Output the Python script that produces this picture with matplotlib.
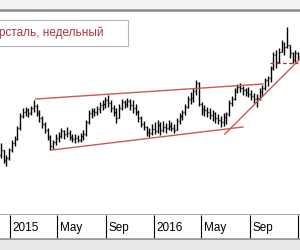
import matplotlib
matplotlib.use('Agg')
import matplotlib.pyplot as plt
import matplotlib.dates as mdates
from matplotlib.patches import Rectangle
import pandas as pd

# weekly bars, Severstal (prices, RUB)
weeks = pd.date_range('2014-12-08', periods=109, freq='W-MON')

opens = [616, 631, 601, 607, 631, 652, 664, 697, 733, 745, 751, 742, 757, 763, 742, 727, 709, 691, 670, 643,
         655, 667, 673, 688, 679, 682, 670, 664, 667, 661, 673, 679, 715, 742, 748, 745, 754, 766, 769, 781,
         772, 757, 745, 727, 757, 775, 769, 778, 766, 757, 745, 727, 709, 700, 685, 682, 694, 688, 706, 691,
         700, 697, 703, 697, 691, 718, 733, 745, 760, 784, 787, 808, 832, 769, 754, 751, 745, 736, 742, 727,
         721, 715, 730, 739, 772, 784, 808, 820, 817, 811, 805, 799, 793, 784, 787, 805, 817, 841, 847, 877,
         916, 895, 925, 949, 940, 946, 922, 901, 922]
highs = [652, 631, 616, 637, 661, 673, 703, 742, 757, 760, 757, 763, 781, 769, 751, 733, 715, 697, 676, 661,
         679, 685, 697, 691, 700, 691, 679, 679, 676, 682, 691, 721, 751, 757, 757, 763, 775, 781, 790, 796,
         781, 766, 757, 769, 784, 781, 787, 784, 781, 769, 751, 733, 718, 703, 697, 709, 715, 721, 715, 718,
         712, 721, 715, 709, 727, 742, 751, 769, 793, 805, 817, 841, 835, 775, 766, 760, 757, 751, 745, 739,
         733, 742, 745, 781, 793, 817, 829, 832, 823, 817, 820, 811, 802, 799, 817, 826, 847, 853, 883, 925,
         931, 937, 961, 955, 1000, 946, 925, 931, 925]
lows = [607, 592, 583, 601, 625, 643, 661, 691, 727, 733, 730, 736, 745, 733, 715, 697, 682, 661, 631, 634,
        646, 655, 667, 664, 670, 661, 655, 652, 655, 655, 661, 673, 709, 727, 733, 736, 742, 751, 757, 760,
        745, 733, 712, 727, 751, 757, 760, 751, 742, 736, 715, 700, 691, 673, 670, 676, 679, 682, 676, 685,
        682, 691, 688, 682, 691, 709, 721, 736, 757, 769, 775, 796, 763, 736, 733, 730, 724, 718, 712, 709,
        700, 703, 709, 733, 763, 781, 802, 805, 796, 793, 790, 781, 772, 760, 781, 793, 811, 823, 835, 871,
        877, 892, 925, 916, 937, 907, 892, 895, 901]
closes = [631, 601, 607, 631, 652, 664, 697, 733, 745, 751, 742, 757, 763, 742, 727, 709, 691, 670, 643, 655,
          667, 673, 688, 679, 682, 670, 664, 667, 661, 673, 679, 715, 742, 748, 745, 754, 766, 769, 781, 772,
          757, 745, 727, 757, 775, 769, 778, 766, 757, 745, 727, 709, 700, 685, 682, 694, 688, 706, 691, 700,
          697, 703, 697, 691, 718, 733, 745, 760, 784, 787, 808, 832, 769, 754, 751, 745, 736, 742, 727, 721,
          715, 730, 739, 772, 784, 808, 820, 817, 811, 805, 799, 793, 784, 787, 805, 817, 841, 847, 877, 916,
          895, 925, 949, 940, 946, 922, 901, 922, 913]

# trend lines: (start date, start price, end date, end price)
channel_top = ('2015-03-07', 784, '2016-10-05', 829)
channel_bottom = ('2015-04-17', 631, '2016-08-15', 700)
rising_line = ('2016-06-30', 679, '2017-01-07', 904)
resistance = ('2016-10-23', 892, '2017-01-02', 892)

month_marks = ['2015-01-01', '2015-05-01', '2015-09-01', '2016-01-01', '2016-05-01', '2016-09-01', '2017-01-01']
month_labels = ['2015', 'May', 'Sep', '2016', 'May', 'Sep', '']

title = 'рсталь, недельный'

plt.rcParams['font.family'] = ['Liberation Sans', 'DejaVu Sans']

fig = plt.figure(figsize=(3, 2.5), dpi=100)
fig.patch.set_facecolor('white')
# grey bands above and below the chart
fig.patches.append(Rectangle((0, 0), 1, 1 - 240 / 250, transform=fig.transFigure,
                             facecolor='#e9e9e9', edgecolor='none', zorder=0))
fig.patches.append(Rectangle((0, 1 - 9 / 250), 1, 9 / 250, transform=fig.transFigure,
                             facecolor='#f3f3f3', edgecolor='none', zorder=0))

x0 = mdates.date2num(pd.Timestamp('2014-12-06'))
x1 = mdates.date2num(pd.Timestamp('2017-01-07'))

ax = fig.add_axes([0, 1 - 215 / 250, 1, 205 / 250])
ax.set_xlim(x0, x1)
ax.set_ylim(436, 1051)
ax.set_xticks([])
ax.set_yticks([])
for side in ['left', 'right']:
    ax.spines[side].set_visible(False)
for side in ['top', 'bottom']:
    ax.spines[side].set_color('#8a8a8a')
    ax.spines[side].set_linewidth(1.8)

# OHLC bars
d = mdates.date2num(weeks)
ax.vlines(d, lows, highs, color='black', lw=1.0)
ax.hlines(opens, d - 2.4, d, color='black', lw=1.0)
ax.hlines(closes, d, d + 2.4, color='black', lw=1.0)

for line in [channel_top, channel_bottom, rising_line]:
    ax.plot(pd.to_datetime([line[0], line[2]]), [line[1], line[3]], color='#d25555', lw=1.0)
ax.plot(pd.to_datetime([resistance[0], resistance[2]]), [resistance[1], resistance[3]],
        color='#9a3a3a', lw=0.9, ls=(0, (3, 2)))

# title box
fig.patches.append(Rectangle((-0.01, 1 - 46 / 250), 128 / 300 + 0.01, 26 / 250, transform=fig.transFigure,
                             facecolor='white', edgecolor='#b5b5b5', lw=0.8, zorder=5))
fig.text(-1 / 300, 1 - 33 / 250, title, color='#a83545', fontsize=8.5, va='center', ha='left', zorder=6)

# date strip
axd = fig.add_axes([0, 1 - 239 / 250, 1, 24 / 250])
axd.set_xlim(x0, x1)
axd.set_ylim(0, 1)
axd.set_xticks([])
axd.set_yticks([])
for side in ['left', 'right', 'top']:
    axd.spines[side].set_visible(False)
axd.spines['bottom'].set_color('#9a9a9a')
axd.spines['bottom'].set_linewidth(2)
marks = mdates.date2num(pd.to_datetime(month_marks))
axd.vlines(marks, 0, 1, color='black', lw=0.8)
for m, lab in zip(marks, month_labels):
    axd.text(m + 6, 0.45, lab, fontsize=8.5, va='center', ha='left', color='black')

fig.savefig('out.png', dpi=100)
